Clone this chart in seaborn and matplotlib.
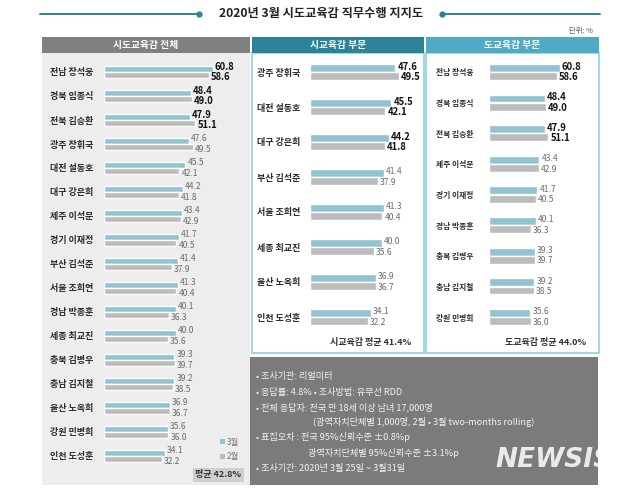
import matplotlib.pyplot as plt
import matplotlib.patches as mpatches
from matplotlib.lines import Line2D
import pandas as pd
import seaborn as sns


# 시도교육감 전체 (3월 순)
names = ['전남 장석웅', '경북 임종식', '전북 김승환', '광주 장휘국', '대전 설동호',
         '대구 강은희', '제주 이석문', '경기 이재정', '부산 김석준', '서울 조희연',
         '경남 박종훈', '세종 최교진', '충북 김병우', '충남 김지철', '울산 노옥희',
         '강원 민병희', '인천 도성훈']
march = [60.8, 48.4, 47.9, 47.6, 45.5, 44.2, 43.4, 41.7, 41.4, 41.3,
         40.1, 40.0, 39.3, 39.2, 36.9, 35.6, 34.1]
feb = [58.6, 49.0, 51.1, 49.5, 42.1, 41.8, 42.9, 40.5, 37.9, 40.4,
       36.3, 35.6, 39.7, 38.5, 36.7, 36.0, 32.2]

city_names = ['광주 장휘국', '대전 설동호', '대구 강은희', '부산 김석준',
              '서울 조희연', '세종 최교진', '울산 노옥희', '인천 도성훈']
province_names = ['전남 장석웅', '경북 임종식', '전북 김승환', '제주 이석문',
                  '경기 이재정', '경남 박종훈', '충북 김병우', '충남 김지철', '강원 민병희']
months = ['3월', '2월']

avg_all = '평균 42.8%'
avg_city = '시교육감 평균 41.4%'
avg_province = '도교육감 평균 44.0%'

notes = [
    (256, 376, '• 조사기관: 리얼미터'),
    (256, 392, '• 응답률: 4.8% • 조사방법: 유무선 RDD'),
    (256, 407, '• 전체 응답자: 전국 만 18세 이상 남녀 17,000명'),
    (313, 422, '(광역자치단체별 1,000명, 2월 • 3월 two-months rolling)'),
    (256, 437, '• 표집오차 : 전국 95%신뢰수준 ±0.8%p'),
    (308, 453, '광역자치단체별 95%신뢰수준 ±3.1%p'),
    (256, 468, '• 조사기간: 2020년 3월 25일 ~ 3월31일'),
]

BLUE = '#86C9DC'
GRAY = '#BCBCBC'
TEAL = '#2B8399'
TEAL_LIGHT = '#4EAAC5'
BORDER = '#A6D6E1'

sns.set_style('white')
plt.rcParams['font.family'] = ['Noto Sans CJK KR', 'DejaVu Sans']

W, H = 640, 492
fig = plt.figure(figsize=(6.4, 4.92), dpi=100)
fig.patch.set_facecolor('white')


def rect(x0, y0, x1, y1, **kw):
    fig.add_artist(mpatches.Rectangle((x0 / W, 1 - y1 / H), (x1 - x0) / W, (y1 - y0) / H,
                                      transform=fig.transFigure, zorder=-1, **kw))


def ftext(x, y, s, **kw):
    fig.text(x / W, 1 - y / H, s, **kw)


def long_df(sel):
    rows = []
    for n in sel:
        i = names.index(n)
        rows.append((n, '3월', march[i]))
        rows.append((n, '2월', feb[i]))
    return pd.DataFrame(rows, columns=['name', 'month', 'value'])


def panel(sel, x0, x1, y_first, y_last, scale, width, name_pad, spread, name_size=6.5):
    n = len(sel)
    step = (y_last - y_first) / (n - 1)
    top, bottom = y_first - step / 2, y_last + step / 2
    ax = fig.add_axes([x0 / W, 1 - bottom / H, (x1 - x0) / W, (bottom - top) / H])
    sns.barplot(data=long_df(sel), x='value', y='name', hue='month', order=sel,
                hue_order=months, palette={'3월': BLUE, '2월': GRAY}, orient='h',
                width=width, gap=0.05, legend=False, ax=ax)
    ax.set_xlim(0, (x1 - x0) / scale)
    ax.set_ylim(n - 0.5, -0.5)
    ax.patch.set_visible(False)
    sns.despine(ax=ax, left=True, bottom=True)
    ax.set_xticks([])
    ax.set_xlabel('')
    ax.set_ylabel('')
    ax.tick_params(axis='y', length=0, pad=name_pad)
    for t in ax.get_yticklabels():
        t.set_fontsize(name_size)
        t.set_fontweight('bold')
        t.set_color('#2b2b2b')
    # blue labels nudged up, gray labels nudged down
    for c, dy in zip(ax.containers, [spread, -spread]):
        texts = ax.bar_label(c, fmt='%.1f', padding=1.5)
        for bar, t in zip(c, texts):
            t.xyann = (1.5, dy)
            row = round(bar.get_y() + bar.get_height() / 2)
            if row < 3:
                t.set_fontsize(6.8)
                t.set_fontweight('bold')
                t.set_color('#111111')
            else:
                t.set_fontsize(6.1)
                t.set_color('#6a6a6a')
    return ax


# title with lines
ftext(321, 14, '2020년 3월 시도교육감 직무수행 지지도', ha='center', va='center',
      fontsize=8.8, fontweight='bold', color='#222222')
for xs, dot in [((40, 199), 199), ((442, 600), 442)]:
    fig.add_artist(Line2D([xs[0] / W, xs[1] / W], [1 - 14 / H] * 2, color=TEAL, lw=1.4,
                          transform=fig.transFigure))
    fig.add_artist(Line2D([dot / W], [1 - 14 / H], marker='o', ms=3.5, color=TEAL,
                          transform=fig.transFigure))
ftext(593, 31, '단위: %', ha='right', va='center', fontsize=5.3, color='#555555')

# panel frames
rect(42, 53, 250, 485, facecolor='#EDEDED', edgecolor='none')
rect(42, 37, 250, 53, facecolor='#808080', edgecolor='none')
rect(252, 53, 424, 353, facecolor='white', edgecolor=BORDER, lw=1.5)
rect(252, 37, 424, 53, facecolor=TEAL, edgecolor='none')
rect(426, 53, 599, 353, facecolor='white', edgecolor=BORDER, lw=1.5)
rect(426, 37, 599, 53, facecolor=TEAL_LIGHT, edgecolor='none')
rect(250, 357, 598, 485, facecolor='#7B7B7B', edgecolor='none')

ftext(146, 45, '시도교육감 전체', ha='center', va='center', fontsize=7, fontweight='bold', color='white')
ftext(338, 45, '시교육감 부문', ha='center', va='center', fontsize=7, fontweight='bold', color='white')
ftext(512, 45, '도교육감 부문', ha='center', va='center', fontsize=7, fontweight='bold', color='white')

# bars
panel(names, 104, 250, 72, 456, 1.79, 0.52, 7.5, 1.4)
panel(city_names, 310, 423, 72, 317, 1.79, 0.48, 7.2, 0.8)
panel(province_names, 489, 598, 72, 317, 1.16, 0.54, 11.5, 0.8, name_size=5.6)

# legend and averages
rect(220, 439, 225, 444, facecolor=BLUE, edgecolor='none')
ftext(227, 442, '3월', ha='left', va='center', fontsize=6, color='#777777')
rect(220, 454, 225, 459, facecolor=GRAY, edgecolor='none')
ftext(227, 457, '2월', ha='left', va='center', fontsize=6, color='#777777')
rect(193, 468, 244, 482, facecolor='#CFCFCF', edgecolor='none')
ftext(218, 475, avg_all, ha='center', va='center', fontsize=6.5, fontweight='bold', color='#333333')
ftext(411, 343, avg_city, ha='right', va='center', fontsize=6.5, fontweight='bold', color='#333333')
ftext(586, 343, avg_province, ha='right', va='center', fontsize=6.5, fontweight='bold', color='#333333')

# survey notes
for x, y, s in notes:
    ftext(x, y, s, ha='left', va='center', fontsize=6.6, color='#F2F2F2')

ftext(554, 460, 'NEWSIS', ha='center', va='center', fontsize=19, fontweight='bold',
      style='italic', color='white', alpha=0.85, family='DejaVu Sans')

fig.savefig('out.png', dpi=100, facecolor='white')
